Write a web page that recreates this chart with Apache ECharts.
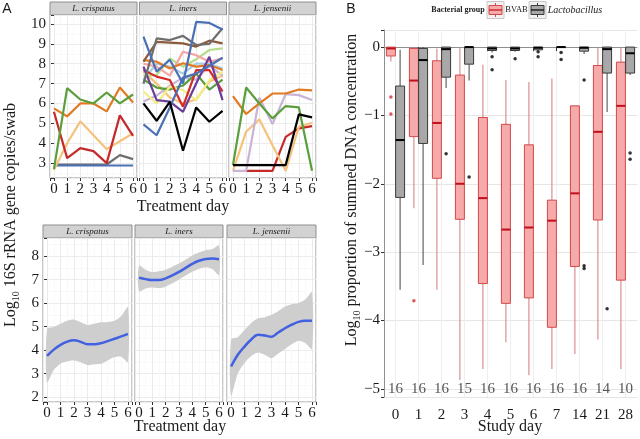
<!DOCTYPE html>
<html><head><meta charset="utf-8">
<script src="https://cdn.jsdelivr.net/npm/echarts@6/dist/echarts.min.js"></script>
<style>html,body{margin:0;padding:0;background:#fff}#c{width:640px;height:439px}</style>
</head><body><div id="c"></div>
<script>
// ---------- Panel A (top): individual trajectories ----------
const days = [0, 1, 2, 3, 4, 5, 6];
const facetNames = ['L. crispatus', 'L. iners', 'L. jensenii'];

const crispatus = [
  [2.93, 2.93, 2.93, 2.93, 2.93, 3.4, 3.2],
  [2.88, 2.88, 2.88, 2.88, 2.88, 2.88, 2.88],
  [2.67, 4.0, 5.1, 4.4, 3.7, 4.1, 4.5],
  [5.58, 3.25, 3.75, 3.6, 3.0, 5.4, 4.37],
  [5.75, 5.35, 6.0, 6.0, 5.6, 6.8, 6.05],
  [2.7, 6.77, 6.2, 6.0, 6.55, 6.0, 6.45]
];
const iners = [
  [7.6, 7.0, 6.3, 6.0, 6.2, 7.1, 7.4],
  [6.1, 6.4, 6.9, 7.3, 7.2, 7.9, 7.4],
  [7.2, 6.8, 6.7, 6.9, 7.5, 6.7, 7.2],
  [6.6, 6.0, 6.84, 6.67, 6.17, 7.18, 7.6],
  [7.2, 8.0, 7.85, 7.5, 8.0, 8.0, 7.76],
  [7.4, 7.43, 8.27, 7.85, 8.22, 8.69, 8.77],
  [8.0, 7.85, 7.4, 8.6, 8.43, 8.1, 8.27],
  [8.18, 8.1, 7.76, 8.02, 7.85, 7.93, 7.68],
  [7.68, 7.35, 7.18, 5.84, 7.68, 7.68, 6.6],
  [7.85, 6.17, 6.09, 5.58, 7.0, 8.35, 6.17],
  [4.95, 4.4, 5.8, 7.3, 7.5, 7.9, 8.3],
  [8.1, 9.1, 9.06, 9.02, 8.86, 9.16, 9.02],
  [7.0, 9.27, 9.19, 9.4, 8.94, 9.0, 9.78],
  [9.36, 7.6, 8.2, 7.0, 10.1, 10.05, 9.72],
  [6.0, 5.13, 6.08, 3.62, 5.8, 5.08, 5.63]
];
const jensenii = [
  [null, 2.61, 2.61, 2.61, 4.32, 4.75, 4.86],
  [2.61, 4.58, 5.2, 3.9, 2.61, 4.83, 5.03],
  [2.61, 2.61, 6.29, 4.96, 6.47, 6.42, 6.17],
  [6.37, 5.47, 6.0, 6.5, 6.5, 6.7, 6.66],
  [2.9, 6.8, 6.0, 5.25, 5.87, 5.8, 2.61],
  [2.9, 2.9, 2.9, 2.9, 2.9, 5.45, 5.3]
];

// ---------- Panel A (bottom): smoothed fits ----------
const fitX = [0, 0.5, 1, 1.5, 2, 2.5, 3, 3.5, 4, 4.5, 5, 5.5, 6];
const crFit = [3.75, 4.02, 4.22, 4.36, 4.42, 4.35, 4.25, 4.25, 4.29, 4.38, 4.48, 4.58, 4.69];
const crHi  = [4.9, 4.98, 5.12, 5.25, 5.3, 5.18, 5.07, 5.12, 5.18, 5.2, 5.25, 5.45, 5.82];
const crLo  = [2.62, 3.15, 3.42, 3.52, 3.56, 3.48, 3.36, 3.4, 3.42, 3.56, 3.7, 3.72, 3.5];
const inFit = [7.08, 7.02, 6.98, 6.98, 7.05, 7.18, 7.33, 7.5, 7.67, 7.8, 7.88, 7.9, 7.87];
const inHi  = [7.6, 7.42, 7.32, 7.35, 7.42, 7.55, 7.68, 7.85, 8.03, 8.15, 8.25, 8.3, 8.45];
const inLo  = [6.5, 6.62, 6.66, 6.64, 6.7, 6.84, 7.0, 7.17, 7.33, 7.46, 7.53, 7.45, 7.2];
const jeFit = [3.3, 3.8, 4.15, 4.45, 4.65, 4.62, 4.57, 4.75, 4.93, 5.08, 5.2, 5.25, 5.25];
const jeHi  = [4.45, 4.55, 4.85, 5.15, 5.35, 5.4, 5.5, 5.65, 5.85, 5.95, 6.0, 6.15, 6.45];
const jeLo  = [2.05, 3.0, 3.45, 3.75, 3.9, 3.8, 3.65, 3.85, 4.05, 4.25, 4.4, 4.3, 4.05];

// ---------- Panel B: boxplots ----------
const studyDays = ['0', '1', '2', '3', '4', '5', '6', '7', '14', '21', '28'];
const counts = [16, 16, 16, 15, 16, 16, 16, 16, 16, 14, 10];
// [lower whisker, Q1, median, Q3, upper whisker]
const bvabStats = [
  [-0.21, -0.13, -0.02, 0, 0],
  [-2.36, -1.31, -0.49, -0.02, 0],
  [-3.55, -1.92, -1.11, -0.2, -0.02],
  [-4.87, -2.52, -2.0, -0.41, 0],
  [-4.71, -3.46, -2.21, -1.03, -0.26],
  [-4.32, -3.75, -2.67, -1.13, -0.48],
  [-4.8, -3.67, -2.64, -1.43, -0.51],
  [-4.71, -4.1, -2.54, -2.24, -0.46],
  [-4.49, -3.21, -2.14, -0.86, -0.86],
  [-4.28, -2.53, -1.24, -0.27, 0],
  [-4.71, -3.41, -0.86, -0.22, 0]
];
const lactoStats = [
  [-3.55, -2.2, -1.36, -0.57, -0.04],
  [-3.19, -1.41, -0.19, -0.02, 0],
  [-0.6, -0.44, -0.03, 0, 0],
  [-0.49, -0.25, 0, 0, 0],
  [-0.08, -0.05, -0.02, 0, 0],
  [-0.07, -0.05, -0.02, 0, 0],
  [-0.04, -0.04, -0.01, 0, 0],
  [0, 0, 0, 0, 0],
  [-0.1, -0.06, -0.01, 0, 0],
  [-0.95, -0.38, -0.03, 0, 0],
  [-0.41, -0.38, -0.09, 0, 0]
];
const bvabOutDay = ['0', '0', '1'];
const bvabOutVal = [-0.73, -0.98, -3.71];
const lactoOutDay = ['2', '3', '4', '4', '5', '6', '6', '7', '7', '14', '14', '14', '21', '28', '28'];
const lactoOutVal = [-1.56, -1.9, -0.14, -0.33, -0.17, -0.07, -0.14, -0.08, -0.18, -0.48, -3.2, -3.24, -3.83, -1.55, -1.64];

// ---------- styling ----------
const SERIF = '"Liberation Serif", "DejaVu Serif", serif';
const SANS = '"Liberation Sans", Arial, sans-serif';
const crColors = ['#6e6e6e', '#4a70b5', '#f5c27c', '#c42a2a', '#e07b22', '#5b9e3c'];
const inColors = ['#f5c27c', '#c9b3d6', '#5b9e3c', '#f2ee85', '#a6cde2', '#b5dd8b', '#f6a5a4', '#e07b22', '#d42a2a', '#6a3d9a', '#4a70b5', '#8c5a3c', '#6e6e6e', '#4a70b5', '#000000'];
const jeColors = ['#c42a2a', '#f5c27c', '#c9b3d6', '#e07b22', '#5b9e3c', '#000000'];

const topGrids = [{left: 50, width: 87}, {left: 139.5, width: 87}, {left: 229, width: 87}];
const botGrids = [{left: 43, width: 89}, {left: 135, width: 88}, {left: 227, width: 89}];
const TOP_T = 15, TOP_H = 163, BOT_T = 238, BOT_H = 164;

const grid = [], xAxis = [], yAxis = [], series = [], graphic = [];
const intFmt = v => (Math.abs(v - Math.round(v)) < 1e-6 ? String(Math.round(v)) : '');

function addFacetAxes(gi, g, top, h, ymin, ymax, ysplit, showY) {
  grid.push({left: g.left, top: top, width: g.width, height: h, show: true, borderColor: '#8f8f8f', borderWidth: 1, backgroundColor: 'rgba(0,0,0,0)', containLabel: false});
  xAxis.push({type: 'value', gridIndex: gi, min: -0.3, max: 6.3, splitNumber: 6,
    axisLine: {show: false}, axisTick: {show: true, length: 3, lineStyle: {color: '#333'}},
    axisLabel: {formatter: intFmt, fontFamily: SERIF, fontSize: 15, color: '#1a1a1a', margin: 4},
    splitLine: {show: true, lineStyle: {color: '#ebebeb', width: 1}},
    minorTick: {show: false, splitNumber: 2}, minorSplitLine: {show: true, lineStyle: {color: '#f5f5f5', width: 0.6}}});
  yAxis.push({type: 'value', gridIndex: gi, min: ymin, max: ymax, splitNumber: ysplit,
    axisLine: {show: false}, axisTick: {show: showY, length: 3, lineStyle: {color: '#333'}},
    axisLabel: {show: showY, formatter: intFmt, fontFamily: SERIF, fontSize: 15, color: '#1a1a1a', margin: 4},
    splitLine: {show: true, lineStyle: {color: '#ebebeb', width: 1}},
    minorTick: {show: false, splitNumber: 2}, minorSplitLine: {show: true, lineStyle: {color: '#f5f5f5', width: 0.6}}});
}
function strip(x, y, w, h, label) {
  graphic.push({type: 'rect', shape: {x: x, y: y, width: w, height: h}, style: {fill: '#d2d2d2', stroke: '#8f8f8f', lineWidth: 1}, silent: true});
  graphic.push({type: 'text', x: x + w / 2, y: y + h / 2 + 0.5, style: {text: label, font: 'italic 9px ' + SERIF, fill: '#1a1a1a', align: 'center', verticalAlign: 'middle', textAlign: 'center', textVerticalAlign: 'middle'}, silent: true});
}

// top row
const topData = [crispatus, iners, jensenii];
const topCols = [crColors, inColors, jeColors];
topGrids.forEach((g, i) => {
  addFacetAxes(i, g, TOP_T, TOP_H, 2.25, 10.45, 8, i === 0);
  strip(g.left, 2, g.width, TOP_T - 2, facetNames[i]);
  topData[i].forEach((vals, k) => {
    const pts = [];
    days.forEach((d, j) => { if (vals[j] != null) pts.push([d, vals[j]]); });
    series.push({type: 'line', xAxisIndex: i, yAxisIndex: i, data: pts, symbol: 'none', silent: true,
      lineStyle: {color: topCols[i][k], width: 2.2}, itemStyle: {color: topCols[i][k]}, z: 3});
  });
});
// bottom row
const fits = [crFit, inFit, jeFit], his = [crHi, inHi, jeHi], los = [crLo, inLo, jeLo];
botGrids.forEach((g, i) => {
  const gi = 3 + i;
  addFacetAxes(gi, g, BOT_T, BOT_H, 1.79, 8.77, 7, i === 0);
  strip(g.left, BOT_T - 13, g.width, 13, facetNames[i]);
  const hi = his[i], lo = los[i];
  series.push({type: 'custom', xAxisIndex: gi, yAxisIndex: gi, silent: true, clip: true, z: 2,
    data: [[fitX[0], lo[0]]],
    renderItem: (params, api) => {
      const up = fitX.map((x, j) => api.coord([x, hi[j]]));
      const dn = fitX.map((x, j) => api.coord([x, lo[j]])).reverse();
      return {type: 'polygon', shape: {points: up.concat(dn), smooth: 0.3}, style: {fill: '#cecece', stroke: 'none'}};
    }});
  series.push({type: 'line', xAxisIndex: gi, yAxisIndex: gi, smooth: 0.4, symbol: 'none', silent: true,
    data: fitX.map((x, j) => [x, fits[i][j]]), lineStyle: {color: '#4161e0', width: 2.5}, z: 4});
});

// Panel B
const B = 6;
grid.push({left: 384, top: 30, width: 253, height: 367, show: false});
xAxis.push({type: 'category', gridIndex: B, data: studyDays, boundaryGap: true,
  axisLine: {show: true, lineStyle: {color: '#8f8f8f'}},
  axisTick: {show: true, alignWithLabel: true, length: 4, lineStyle: {color: '#333'}},
  axisLabel: {fontFamily: SERIF, fontSize: 15, color: '#1a1a1a', margin: 11, interval: 0},
  splitLine: {show: true, alignWithLabel: true, lineStyle: {color: '#eeeeee'}}});
yAxis.push({type: 'value', gridIndex: B, min: -5.12, max: 0.25, splitNumber: 5,
  axisLine: {show: true, lineStyle: {color: '#8f8f8f'}},
  axisTick: {show: true, length: 3, lineStyle: {color: '#333'}},
  axisLabel: {formatter: v => intFmt(v).replace('-', '\u2212'), fontFamily: SERIF, fontSize: 15, color: '#1a1a1a', margin: 4},
  splitLine: {show: true, lineStyle: {color: '#e6e6e6'}}});

// boxes drawn on the category scale, dodged left (BVAB) / right (Lactobacillus)
function boxSeries(stats, side, fill, stroke, whisker, median) {
  return {type: 'custom', xAxisIndex: B, yAxisIndex: B, silent: true, z: 3,
    data: stats.map((s, i) => [i].concat(s)),
    encode: {x: 0, y: [1, 2, 3, 4, 5]},
    renderItem: (params, api) => {
      const i = api.value(0);
      const band = api.size([1, 0])[0];
      const w = band * 0.39;
      const cx = api.coord([i, 0])[0] + side * band * 0.2;
      const Y = k => api.coord([i, api.value(k)])[1];
      const yMin = Y(1), yQ1 = Y(2), yMed = Y(3), yQ3 = Y(4), yMax = Y(5);
      return {type: 'group', children: [
        {type: 'line', shape: {x1: cx, y1: yQ1, x2: cx, y2: yMin}, style: {stroke: whisker, lineWidth: 1.1}},
        {type: 'line', shape: {x1: cx, y1: yQ3, x2: cx, y2: yMax}, style: {stroke: whisker, lineWidth: 1.1}},
        {type: 'rect', shape: {x: cx - w / 2, y: yQ3, width: w, height: Math.max(yQ1 - yQ3, 0.01)}, style: {fill: fill, stroke: stroke, lineWidth: 1}},
        {type: 'line', shape: {x1: cx - w / 2, y1: yMed, x2: cx + w / 2, y2: yMed}, style: {stroke: median, lineWidth: 2}}
      ]};
    }};
}
series.push(boxSeries(bvabStats, -1, '#f6aaaa', '#d24848', '#d98585', '#c20e1c'));
series.push(boxSeries(lactoStats, 1, '#a8a8a8', '#3a3a3a', '#555555', '#000000'));

const OFF = 4.6;
series.push({type: 'scatter', xAxisIndex: B, yAxisIndex: B, symbolSize: 3.5, symbolOffset: [-OFF, 0], silent: true,
  data: bvabOutVal.map((v, i) => [studyDays.indexOf(bvabOutDay[i]), v]), itemStyle: {color: '#d62a2a'}, z: 5});
series.push({type: 'scatter', xAxisIndex: B, yAxisIndex: B, symbolSize: 3.5, symbolOffset: [OFF, 0], silent: true,
  data: lactoOutVal.map((v, i) => [studyDays.indexOf(lactoOutDay[i]), v]), itemStyle: {color: '#000'}, z: 5});
series.push({type: 'scatter', xAxisIndex: B, yAxisIndex: B, symbolSize: 2, silent: true,
  data: counts.map((c, i) => [i, -5, c]), itemStyle: {color: 'rgba(255,255,255,0)'},
  label: {show: true, position: 'inside', formatter: p => String(p.data[2]), fontFamily: SERIF, fontSize: 15, color: '#2a2a2a'},
  labelLayout: {hideOverlap: false}, z: 6});

// titles and labels
function txt(x, y, text, font) {
  graphic.push({type: 'text', x: x, y: y, silent: true,
    style: {text: text, font: font, fill: '#1a1a1a', align: 'center', verticalAlign: 'middle', textAlign: 'center', textVerticalAlign: 'middle'}});
}
txt(7, 9, 'A', '14px ' + SANS);
txt(351, 9, 'B', '14px ' + SANS);
txt(183, 207, 'Treatment day', '16px ' + SERIF);
txt(180, 427, 'Treatment day', '16px ' + SERIF);
txt(510, 427, 'Study day', '16px ' + SERIF);
const subRich = {
  m: {fontFamily: SERIF, fontSize: 16, lineHeight: 20, verticalAlign: 'middle'},
  s: {fontFamily: SERIF, fontSize: 10, lineHeight: 10, verticalAlign: 'bottom'}
};
graphic.push({type: 'text', x: 11, y: 215, rotation: Math.PI / 2, silent: true,
  style: {text: '{m|Log}{s|10}{m| 16S rRNA gene copies/swab}', rich: subRich, fill: '#1a1a1a', align: 'center', verticalAlign: 'middle', textAlign: 'center', textVerticalAlign: 'middle'}});
graphic.push({type: 'text', x: 352, y: 190, rotation: Math.PI / 2, silent: true,
  style: {text: '{m|Log}{s|10}{m| proportion of summed DNA concentration}', rich: subRich, fill: '#1a1a1a', align: 'center', verticalAlign: 'middle', textAlign: 'center', textVerticalAlign: 'middle'}});

// legend
txt(458, 10, 'Bacterial group', 'bold 8px ' + SERIF);
function legendKey(x, fill, stroke, med) {
  graphic.push({type: 'rect', shape: {x: x, y: 1.5, width: 17, height: 17}, style: {fill: '#f2f2f2', stroke: '#c8c8c8', lineWidth: 1}, silent: true});
  graphic.push({type: 'line', shape: {x1: x + 8.5, y1: 3, x2: x + 8.5, y2: 17}, style: {stroke: stroke, lineWidth: 1}, silent: true});
  graphic.push({type: 'rect', shape: {x: x + 2, y: 5.5, width: 13, height: 9}, style: {fill: fill, stroke: stroke, lineWidth: 1}, silent: true});
  graphic.push({type: 'line', shape: {x1: x + 2, y1: 10, x2: x + 15, y2: 10}, style: {stroke: med, lineWidth: 1.2}, silent: true});
}
legendKey(487, '#f6aaaa', '#d24848', '#c20e1c');
txt(516.5, 10, 'BVAB', '8.5px ' + SERIF);
legendKey(529, '#a8a8a8', '#3a3a3a', '#000');
txt(575, 10, 'Lactobacillus', 'italic 10px ' + SERIF);

const chart = echarts.init(document.getElementById('c'), null, {renderer: 'canvas'});
chart.setOption({animation: false, backgroundColor: '#ffffff', grid, xAxis, yAxis, series, graphic});
</script></body></html>
